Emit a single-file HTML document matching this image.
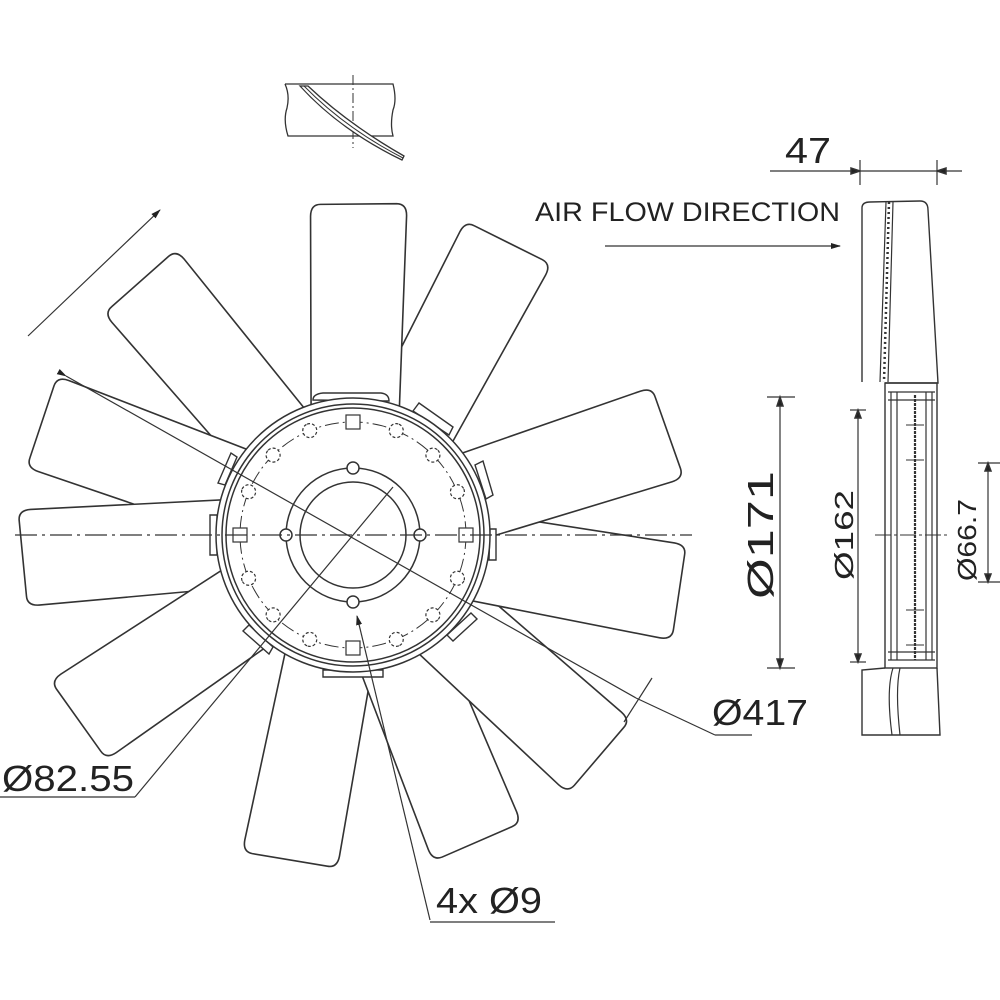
<!DOCTYPE html>
<html><head><meta charset="utf-8"><style>
html,body{margin:0;padding:0;background:#fff}
svg{display:block}
text{font-family:"Liberation Sans",sans-serif;fill:#222}
</style></head><body>
<svg width="1000" height="1000" viewBox="0 0 1000 1000" xmlns="http://www.w3.org/2000/svg">
<defs>
<marker id="ah" markerWidth="10" markerHeight="8" refX="9" refY="4" orient="auto" markerUnits="userSpaceOnUse"><path d="M0,1 L10,4 L0,7 Z" fill="#222"/></marker>
<path id="bl" d="M120,-44 L318,-48 Q330,-48 330,-38 L332,38 Q332,48 320,48 L120,44 Z" fill="#fff" stroke="#333" stroke-width="1.6"/>
</defs>
<g stroke="#333" fill="none" stroke-width="1.5">
<g transform="translate(353,535)">
<use href="#bl" transform="rotate(-130)"/>
<use href="#bl" transform="rotate(-160)"/>
<use href="#bl" transform="rotate(176)"/>
<use href="#bl" transform="rotate(146)"/>
<use href="#bl" transform="rotate(101)"/>
<use href="#bl" transform="rotate(68)"/>
<use href="#bl" transform="rotate(42)"/>
<use href="#bl" transform="rotate(10)"/>
<use href="#bl" transform="rotate(-18)"/>
<use href="#bl" transform="rotate(-62)"/>
<use href="#bl" transform="rotate(-89)"/>
<g stroke-width="1.4" fill="#fff">
<path d="M-40,-135 Q-40,-141 -30,-142 L28,-142 Q36,-141 36,-134 Z"/>
<path d="M60,-124 L66,-132 L100,-108 L96,-100 Z"/>
<path d="M122,-70 L130,-74 L140,-40 L133,-36 Z"/>
<path d="M137,-6 L143,-6 L143,25 L136,25 Z"/>
<path d="M118,78 L124,84 L100,106 L94,100 Z"/>
<path d="M30,135 L30,142 L-30,142 L-30,135 Z"/>
<path d="M-80,112 L-84,119 L-110,96 L-104,90 Z"/>
<path d="M-136,20 L-143,20 L-143,-20 L-136,-20 Z"/>
<path d="M-128,-50 L-135,-52 L-122,-82 L-116,-78 Z"/>
</g>
<circle r="137" fill="#fff"/>
<circle r="131"/>
<circle r="127"/>
<circle r="113" stroke-width="1" stroke-dasharray="14,4,2,4"/>
<circle r="67"/>
<circle r="53"/>
<g fill="#fff">
<circle cx="67" cy="0" r="6"/><circle cx="-67" cy="0" r="6"/><circle cx="0" cy="-67" r="6"/><circle cx="0" cy="67" r="6"/>
</g>
<g fill="#fff" stroke-width="1.2">
<rect x="106" y="-7" width="14" height="14"/><rect x="-120" y="-7" width="14" height="14"/>
<rect x="-7" y="-120" width="14" height="14"/><rect x="-7" y="106" width="14" height="14"/>
<g transform="rotate(22.5)"><circle cx="113" r="7" stroke-dasharray="3,2"/></g>
<g transform="rotate(45)"><circle cx="113" r="7" stroke-dasharray="3,2"/></g>
<g transform="rotate(67.5)"><circle cx="113" r="7" stroke-dasharray="3,2"/></g>
<g transform="rotate(112.5)"><circle cx="113" r="7" stroke-dasharray="3,2"/></g>
<g transform="rotate(135)"><circle cx="113" r="7" stroke-dasharray="3,2"/></g>
<g transform="rotate(157.5)"><circle cx="113" r="7" stroke-dasharray="3,2"/></g>
<g transform="rotate(202.5)"><circle cx="113" r="7" stroke-dasharray="3,2"/></g>
<g transform="rotate(225)"><circle cx="113" r="7" stroke-dasharray="3,2"/></g>
<g transform="rotate(247.5)"><circle cx="113" r="7" stroke-dasharray="3,2"/></g>
<g transform="rotate(292.5)"><circle cx="113" r="7" stroke-dasharray="3,2"/></g>
<g transform="rotate(315)"><circle cx="113" r="7" stroke-dasharray="3,2"/></g>
<g transform="rotate(337.5)"><circle cx="113" r="7" stroke-dasharray="3,2"/></g>
</g>
</g>
<line x1="15" y1="535" x2="692" y2="535" stroke-width="1.2" stroke-dasharray="22,5,3,5"/>
<line x1="66" y1="376" x2="636" y2="698" stroke-width="1.2" marker-start="url(#ah)"/>
<line x1="636" y1="698" x2="715" y2="735" stroke-width="1.2"/>
<line x1="715" y1="735" x2="752" y2="735" stroke-width="1.2"/>
<line x1="652" y1="678" x2="624" y2="722" stroke-width="1.2"/>
<line x1="393" y1="487" x2="135" y2="797" stroke-width="1.2"/>
<line x1="0" y1="797" x2="135" y2="797" stroke-width="1.2"/>
<line x1="430" y1="920" x2="357" y2="616" stroke-width="1.2" marker-end="url(#ah)"/>
<line x1="430" y1="922" x2="555" y2="922" stroke-width="1.2"/>
<line x1="28" y1="336" x2="160" y2="210" stroke-width="1.2" marker-end="url(#ah)"/>
<path d="M285,84 L393,84 Q397,100 393,110 Q390,125 393,136 L288,136 Q283,120 287,108 Q290,95 285,84" stroke-width="1.3"/>
<line x1="353" y1="75" x2="353" y2="148" stroke-width="1" stroke-dasharray="10,3,2,3"/>
<path d="M300,86 Q340,130 402,160 L404,156 Q348,124 308,86 Z" stroke-width="1.3" fill="#fff"/>
<path d="M304,86 Q345,128 403,158" stroke-width="1"/>
<line x1="605" y1="246" x2="840" y2="246" stroke-width="1.2" marker-end="url(#ah)"/>
<line x1="770" y1="171" x2="962" y2="171" stroke-width="1.2"/>
<line x1="860" y1="160" x2="860" y2="185" stroke-width="1.2"/>
<line x1="937" y1="160" x2="937" y2="185" stroke-width="1.2"/>
<path d="M860,171 l-9,-3 v6 Z M937,171 l9,-3 v6 Z" fill="#222"/>
<path d="M862,382 L862,208 Q862,202 870,202 L920,201 Q928,201 928,210 L938,383 L885,383" stroke-width="1.4"/>
<path d="M886,202 L880,382 M893,202 L888,382" stroke-width="1.2"/>
<path d="M889,202 L884,382" stroke-width="2.5" stroke-dasharray="2,3" />
<rect x="885" y="383" width="52" height="285" stroke-width="1.4"/>
<line x1="891" y1="392" x2="891" y2="660" stroke-width="1.2"/>
<line x1="897" y1="392" x2="897" y2="660" stroke-width="1.2"/>
<line x1="915" y1="395" x2="915" y2="660" stroke-width="2.2" stroke-dasharray="3,1"/>
<line x1="926" y1="392" x2="926" y2="660" stroke-width="1.2"/>
<line x1="932" y1="392" x2="932" y2="660" stroke-width="1.2"/>
<path d="M888,392 L935,392 M888,400 L935,400 M888,660 L935,660 M888,652 L935,652" stroke-width="1.2"/>
<path d="M885,668 L862,670 L862,735 L940,735 L937,668" stroke-width="1.4"/>
<path d="M893,668 Q886,690 892,735 M900,668 Q895,690 900,735" stroke-width="1.2"/>
<line x1="875" y1="535" x2="948" y2="535" stroke-width="1" stroke-dasharray="16,3,3,3"/>
<g stroke-width="1"><line x1="906" y1="460" x2="924" y2="460"/><line x1="906" y1="425" x2="924" y2="425"/><line x1="906" y1="610" x2="924" y2="610"/><line x1="906" y1="645" x2="924" y2="645"/></g>
<line x1="780" y1="397" x2="780" y2="668" stroke-width="1.2"/>
<line x1="767" y1="397" x2="795" y2="397" stroke-width="1.2"/>
<line x1="767" y1="668" x2="795" y2="668" stroke-width="1.2"/>
<path d="M780,397 l-3,9 h6 Z M780,668 l-3,-9 h6 Z" fill="#222"/>
<line x1="858" y1="410" x2="858" y2="662" stroke-width="1.2"/>
<line x1="850" y1="410" x2="866" y2="410" stroke-width="1.2"/>
<line x1="850" y1="662" x2="866" y2="662" stroke-width="1.2"/>
<path d="M858,410 l-3,8 h6 Z M858,662 l-3,-8 h6 Z" fill="#222"/>
<line x1="988" y1="463" x2="988" y2="582" stroke-width="1.2"/>
<line x1="978" y1="463" x2="1000" y2="463" stroke-width="1.2"/>
<line x1="978" y1="582" x2="1000" y2="582" stroke-width="1.2"/>
<path d="M988,463 l-3,8 h6 Z M988,582 l-3,-8 h6 Z" fill="#222"/>
</g>
<text x="535" y="221" font-size="27" textLength="305" lengthAdjust="spacingAndGlyphs">AIR FLOW DIRECTION</text>
<text x="785" y="163" font-size="36" textLength="46" lengthAdjust="spacingAndGlyphs">47</text>
<text x="712" y="725" font-size="36" textLength="96" lengthAdjust="spacingAndGlyphs">Ø417</text>
<text x="2" y="791" font-size="36" textLength="132" lengthAdjust="spacingAndGlyphs">Ø82.55</text>
<text x="436" y="913" font-size="36" textLength="106" lengthAdjust="spacingAndGlyphs">4x Ø9</text>
<text transform="translate(773,535) rotate(-90)" text-anchor="middle" font-size="36" textLength="128" lengthAdjust="spacingAndGlyphs">Ø171</text>
<text transform="translate(853,535) rotate(-90)" text-anchor="middle" font-size="26" textLength="90" lengthAdjust="spacingAndGlyphs">Ø162</text>
<text transform="translate(976,540) rotate(-90)" text-anchor="middle" font-size="26" textLength="82" lengthAdjust="spacingAndGlyphs">Ø66.7</text>
</svg>
</body></html>
